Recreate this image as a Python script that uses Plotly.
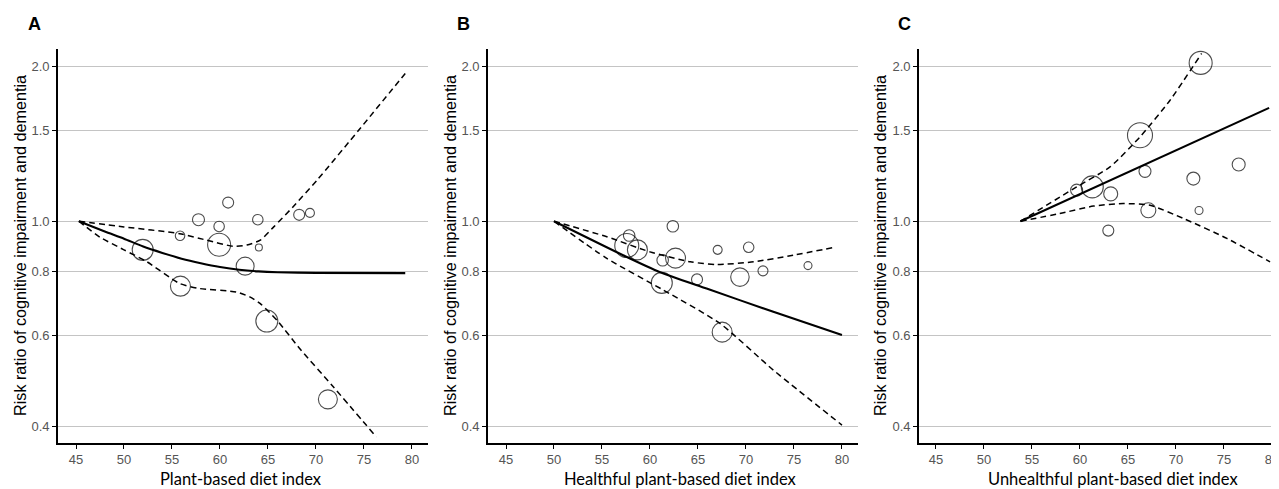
import math
import plotly.graph_objects as go

# page body has an 8px default margin, so the figure is sized/placed to compensate
PAGE_W, PAGE_H, BODY = 1279, 489, 8
W, H = PAGE_W - BODY, PAGE_H - BODY

# ---------------- data ----------------
x_ticks = [45, 50, 55, 60, 65, 70, 75, 80]
rr_ticks = [0.4, 0.6, 0.8, 1.0, 1.5, 2.0]
rr_ticklabels = ["0.4", "0.6", "0.8", "1.0", "1.5", "2.0"]

panel_labels = ["A", "B", "C"]
x_titles = ["Plant-based diet index", "Healthful plant-based diet index",
            "Unhealthful plant-based diet index"]
y_title = "Risk ratio of cognitive impairment and dementia"

# Panel A: plant-based diet index
a_index = [51.95, 55.88, 55.84, 57.76, 59.91, 59.91, 60.85, 62.62, 63.94, 64.05, 64.88, 68.25, 69.37, 71.24]
a_rr = [0.880, 0.748, 0.937, 1.007, 0.977, 0.900, 1.087, 0.818, 1.007, 0.889, 0.640, 1.029, 1.038, 0.451]
a_weight = [21, 20, 9.5, 12, 10.5, 23, 11, 18, 10.5, 7, 22, 11, 9, 19]
a_fit_x = [45.3, 48, 50, 52, 54, 56, 58, 60, 62, 64, 66, 70, 79.3]
a_fit = [1.0, 0.955, 0.925, 0.893, 0.868, 0.846, 0.829, 0.815, 0.805, 0.799, 0.796, 0.794, 0.793]
a_up_x = [45.3, 50, 55.8, 58.6, 61.4, 62.8, 64.2, 65.6, 67.6, 70.1, 74.6, 79.3]
a_up = [1.0, 0.975, 0.946, 0.919, 0.894, 0.899, 0.919, 0.975, 1.066, 1.201, 1.514, 1.936]
a_lo_x = [45.3, 47.5, 50, 52.4, 55.8, 57.9, 61.7, 63.1, 64.2, 66.1, 68.3, 71.8, 76.3]
a_lo = [1.0, 0.931, 0.880, 0.834, 0.757, 0.740, 0.729, 0.713, 0.692, 0.637, 0.566, 0.477, 0.381]

# Panel B: healthful plant-based diet index
b_index = [57.58, 57.83, 58.69, 61.32, 61.23, 62.38, 62.66, 64.90, 67.05, 67.52, 69.37, 70.28, 71.77, 76.46]
b_rr = [0.897, 0.938, 0.880, 0.840, 0.759, 0.978, 0.848, 0.771, 0.880, 0.609, 0.779, 0.890, 0.801, 0.820]
b_weight = [24, 11.5, 20, 11.5, 21, 11.5, 20, 11, 9, 20, 18.5, 10.5, 10, 8]
b_fit_x = [50, 57.2, 61.0, 65.9, 72.85, 80.0]
b_fit = [1.0, 0.859, 0.797, 0.740, 0.667, 0.601]
b_up_x = [50, 55.5, 60.0, 64.2, 67.0, 70.8, 74.9, 79.4]
b_up = [1.0, 0.933, 0.872, 0.834, 0.824, 0.834, 0.859, 0.891]
b_lo_x = [50, 55.5, 61.4, 67.3, 72.85, 80.0]
b_lo = [1.0, 0.847, 0.735, 0.633, 0.514, 0.402]

# Panel C: unhealthful plant-based diet index
c_index = [59.65, 61.28, 63.20, 62.95, 66.25, 66.77, 67.12, 71.81, 72.40, 72.57, 76.53]
c_rr = [1.149, 1.166, 1.130, 0.959, 1.469, 1.250, 1.050, 1.210, 1.049, 2.030, 1.289]
c_weight = [12, 22, 14, 11, 25, 12, 15, 13, 8, 23, 13]
c_fit_x = [53.8, 79.7]
c_fit = [1.0, 1.66]
c_up_x = [53.8, 59.65, 63.13, 66.25, 69.38, 72.67]
c_up = [1.0, 1.166, 1.275, 1.458, 1.718, 2.117]
c_lo_x = [53.8, 57.9, 61.4, 64.5, 67.3, 70.8, 75.3, 79.8]
c_lo = [1.0, 1.035, 1.070, 1.082, 1.074, 1.012, 0.926, 0.834]

panels = [
    (a_index, a_rr, a_weight, a_fit_x, a_fit, a_up_x, a_up, a_lo_x, a_lo),
    (b_index, b_rr, b_weight, b_fit_x, b_fit, b_up_x, b_up, b_lo_x, b_lo),
    (c_index, c_rr, c_weight, c_fit_x, c_fit, c_up_x, c_up, c_lo_x, c_lo),
]

# ---------------- layout geometry (page pixels) ----------------
x_domains_px = [(58, 428), (488, 858), (919, 1279)]
x_ranges = [(43.125, 81.67), (43.125, 81.67), (43.23, 80.73)]
y_top_px, y_bot_px = 49, 443
y_range = [math.log10(0.371), math.log10(2.16)]
panel_offsets = [0, 430, 860]
letter_px = [34, 463, 904]
xtitle_px = [241, 680, 1113]


def px_x(p):
    return (p - BODY) / W


def px_y(p):
    return (H - (p - BODY)) / H


fig = go.Figure()

for i, (xs, rr, wt, fx, fy, ux, uy, lx, ly) in enumerate(panels):
    xa = "x" if i == 0 else f"x{i+1}"
    ya = "y" if i == 0 else f"y{i+1}"
    fig.add_trace(go.Scatter(
        x=xs, y=rr, xaxis=xa, yaxis=ya, mode="markers",
        marker=dict(symbol="circle-open", size=wt, color="black",
                    line=dict(width=1.1, color="black")),
        showlegend=False, hoverinfo="x+y"))
    for bx, by in ((ux, uy), (lx, ly)):
        fig.add_trace(go.Scatter(
            x=bx, y=by, xaxis=xa, yaxis=ya, mode="lines",
            line=dict(color="black", width=1.5, dash="6px,4px", shape="spline", smoothing=0.6),
            showlegend=False))
    fig.add_trace(go.Scatter(
        x=fx, y=fy, xaxis=xa, yaxis=ya, mode="lines",
        line=dict(color="black", width=2.1, shape="spline", smoothing=0.6),
        showlegend=False))

y_dom = [px_y(y_bot_px), px_y(y_top_px)]
layout = dict(
    width=W, height=H,
    margin=dict(l=0, r=0, t=0, b=0),
    paper_bgcolor="white", plot_bgcolor="white",
    font=dict(family="Liberation Sans, Arial, sans-serif", color="black"),
    showlegend=False,
)
tick_font = dict(size=13, color="#555555", family="Liberation Sans, Arial, sans-serif")
for i in range(3):
    xk = "xaxis" if i == 0 else f"xaxis{i+1}"
    yk = "yaxis" if i == 0 else f"yaxis{i+1}"
    xa = "x" if i == 0 else f"x{i+1}"
    ya = "y" if i == 0 else f"y{i+1}"
    d0, d1 = x_domains_px[i]
    layout[xk] = dict(
        domain=[px_x(d0), min(px_x(d1), 1.0)], range=list(x_ranges[i]), anchor=ya,
        tickvals=x_ticks, ticktext=[str(t) for t in x_ticks],
        showgrid=False, zeroline=False, showline=True, linecolor="black", linewidth=1.6,
        ticks="outside", ticklen=4, tickwidth=1, tickcolor="black", tickfont=tick_font,
        ticklabeloverflow="allow",
    )
    layout[yk] = dict(
        domain=y_dom, type="log", range=y_range, anchor=xa,
        tickvals=rr_ticks, ticktext=rr_ticklabels,
        showgrid=True, gridcolor="#c4c4c4", gridwidth=1.2, zeroline=False,
        showline=True, linecolor="black", linewidth=1.6,
        ticks="outside", ticklen=4, tickwidth=1, tickcolor="black", tickfont=tick_font,
    )

annotations = []
for i in range(3):
    off = panel_offsets[i]
    annotations.append(dict(
        text=f"<b>{panel_labels[i]}</b>", x=px_x(letter_px[i]), y=px_y(24.5),
        xref="paper", yref="paper", showarrow=False, xanchor="center", yanchor="middle",
        font=dict(size=18, color="black", family="Liberation Sans, Arial, sans-serif")))
    annotations.append(dict(
        text=y_title, x=px_x(off + 20), y=px_y(246), textangle=-90,
        xref="paper", yref="paper", showarrow=False, xanchor="center", yanchor="middle",
        font=dict(size=16.2, color="black", family="Liberation Sans, Arial, sans-serif")))
    annotations.append(dict(
        text=x_titles[i], x=px_x(xtitle_px[i]), y=px_y(479),
        xref="paper", yref="paper", showarrow=False, xanchor="center", yanchor="middle",
        font=dict(size=16.5, color="black", family="Lato, Open Sans, sans-serif")))
layout["annotations"] = annotations

fig.update_layout(**layout)
fig.write_html("out.html")
